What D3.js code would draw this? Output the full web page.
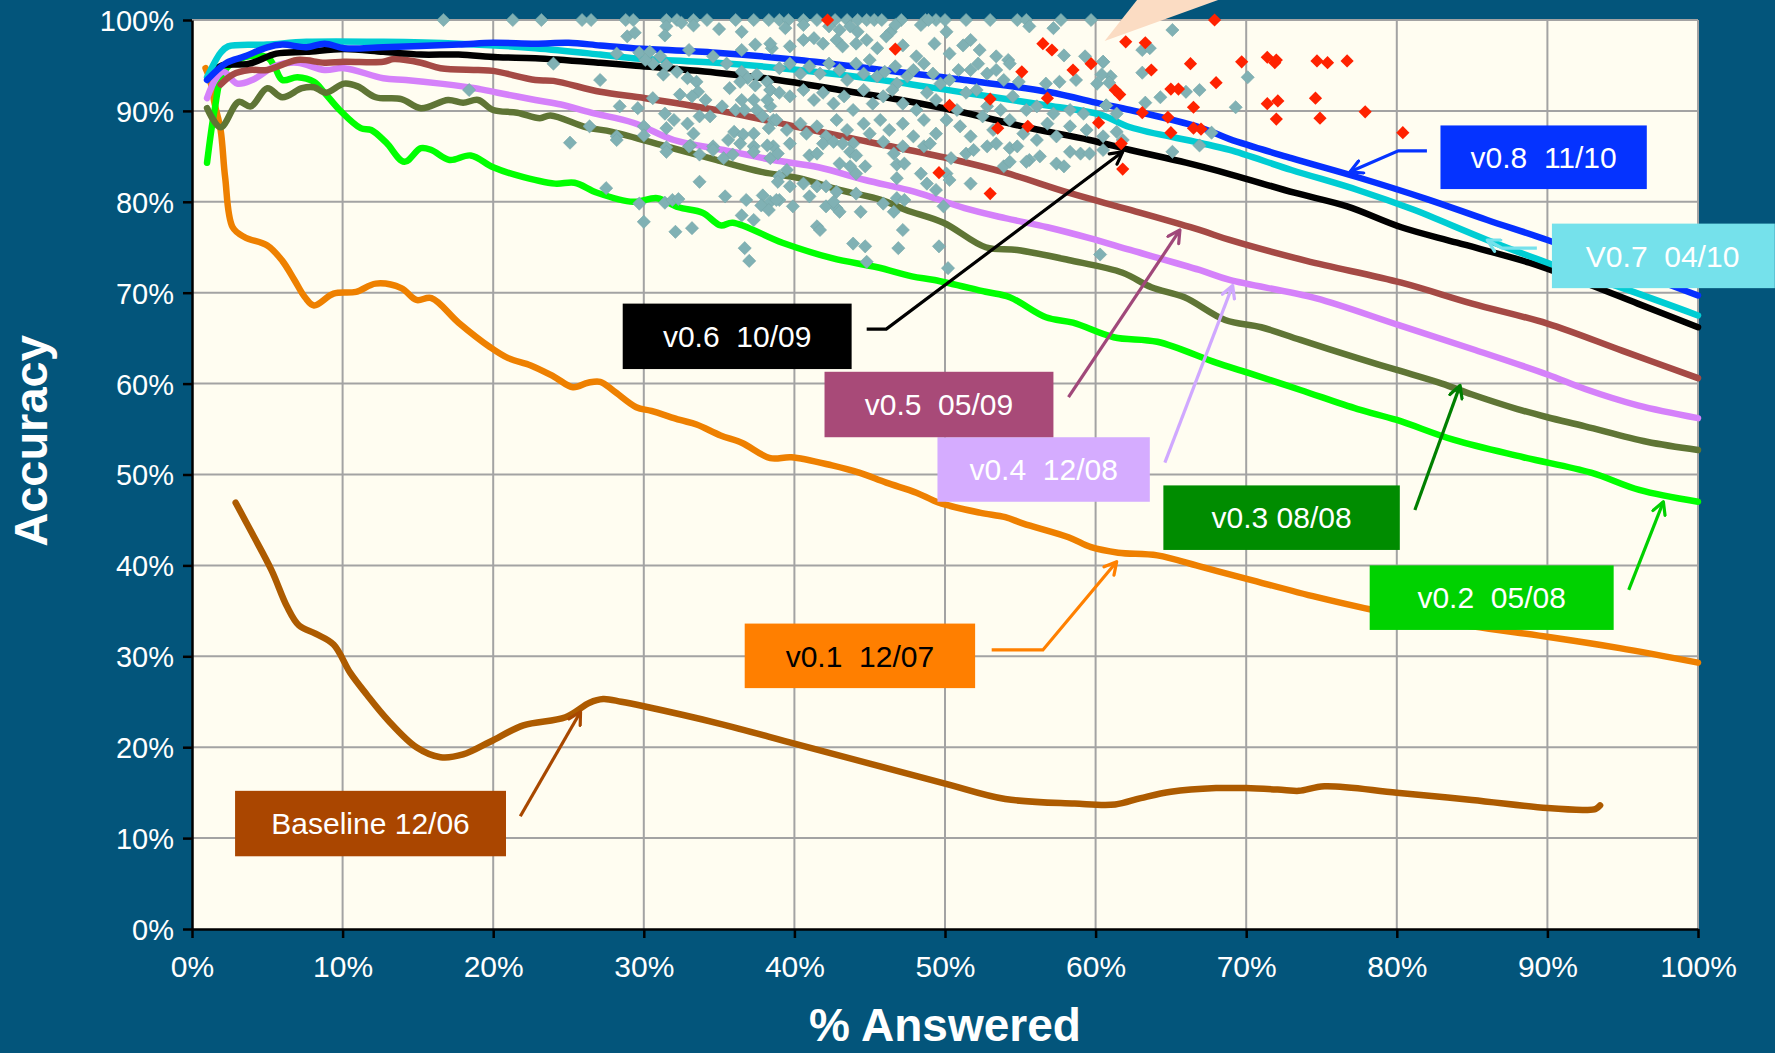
<!DOCTYPE html>
<html>
<head>
<meta charset="utf-8">
<script src="https://cdn.jsdelivr.net/npm/d3@7"></script>
<style>
html, body { margin: 0; padding: 0; background: #03557b; }
svg { display: block; }
</style>
</head>
<body>
<svg width="1775" height="1053"></svg>
<script>
// ---- data (x = % answered, y = accuracy %) ----
const xTicks = [0, 10, 20, 30, 40, 50, 60, 70, 80, 90, 100];
const yTicks = [0, 10, 20, 30, 40, 50, 60, 70, 80, 90, 100];

const baseline = [[2.9,46.9],[4,43.5],[5.3,39.4],[6.3,35.5],[7.1,33.4],[8.2,32.5],[9.4,31.3],[10.5,28.2],[11.6,25.8],[13,23],[14.9,20],[16.5,18.9],[18,19.2],[19.8,20.6],[22,22.4],[24.8,23.3],[26.4,24.9],[27.3,25.3],[28.5,25],[30,24.5],[35,22.6],[40,20.4],[45,18.2],[50,16],[54,14.3],[58.6,13.8],[61.3,13.7],[63,14.4],[65,15.1],[68,15.5],[70,15.5],[72.5,15.3],[73.5,15.2],[75.2,15.7],[80,15],[85,14.2],[90,13.3],[92.5,13.1],[93.2,13.2],[93.5,13.6]];

const v01 = [[0.9,94.7],[1.2,93.4],[1.5,90.8],[1.9,87.9],[2.2,82.7],[2.7,77.2],[3.5,76.1],[5,75.2],[6,73.5],[6.8,71.4],[7.5,69.5],[8.1,68.6],[9.4,69.9],[10.9,70.1],[12.2,71],[13.9,70.5],[14.9,69.2],[15.9,69.4],[17.7,66.7],[19.8,64],[21,62.8],[22.5,62],[24,60.8],[25.3,59.6],[26.3,60.1],[27.1,60.2],[28,59.2],[29.5,57.4],[30.5,57],[32.4,56],[33.5,55.5],[35.1,54.3],[36.5,53.5],[38.4,51.8],[39.8,51.9],[42.5,51],[44.3,50.2],[46.1,49.1],[48.1,48],[49.6,46.9],[52.3,45.8],[54,45.3],[55.2,44.6],[58.2,43.1],[59.7,42],[61.5,41.4],[64.1,41.1],[67.1,39.8],[70.1,38.5],[74.7,36.5],[79.3,34.8],[85,33.3],[90.2,32.1],[94.8,30.9],[100,29.3]];

const v02 = [[1,84.3],[1.5,90.1],[2.1,94.3],[3.5,95.9],[5,95.9],[5.5,94.8],[6,93.4],[7,93.7],[8.1,93.2],[8.8,92],[9.8,90.1],[11.2,88.1],[11.9,87.9],[12.9,86.5],[14.1,84.4],[15.2,85.9],[15.9,85.7],[17.1,84.6],[18.5,85.1],[20,83.8],[21.6,82.9],[24.1,82],[25.4,82.1],[26.9,81],[29.3,80],[30.9,80.4],[32.3,79.4],[33.9,78.8],[35.1,77.4],[35.9,77.7],[39.2,75.5],[42.5,73.8],[45.5,72.8],[47.8,71.8],[49.3,71.4],[52.7,70.1],[54.3,69.5],[56.7,67.3],[58.5,66.7],[61.2,65.1],[64.1,64.6],[68,62.3],[70.1,61.2],[73.6,59.3],[77.4,57.2],[80,56],[83.8,53.8],[88.4,51.9],[92.9,50.2],[96.1,48.3],[100,47]];

const v03 = [[1,90.3],[1.9,88.2],[3.1,91],[3.9,90.5],[5,92.5],[6,91.5],[7.3,92.5],[8.1,92.6],[8.9,92],[10.1,93],[11,92.7],[12.2,91.5],[13.9,91.3],[15.2,90.3],[17,91.2],[18,90.9],[19,91.2],[20,90.1],[21.6,89.8],[23.1,89.2],[23.8,89.5],[26.2,88.2],[27.9,87.7],[31.7,86],[34.8,84.6],[37.8,83.3],[40.3,82.6],[43,81.3],[45.8,80.2],[47.4,79.1],[49.9,77.7],[52.7,75],[54.8,74.7],[58.2,73.6],[61.8,72.2],[63.7,70.6],[65.9,69.5],[68.6,67],[71,66.2],[73.6,64.8],[77.4,62.8],[80,61.5],[83,60],[85,58.8],[88,57.2],[90,56.3],[92.5,55.3],[96.6,53.6],[100,52.7]];

const v04 = [[1,91.4],[1.6,93.6],[2.1,94.3],[3,93],[4,93.4],[5.6,95],[7,95.3],[8.8,94.5],[10.1,94.7],[12.7,93.6],[14.2,93.4],[16.5,93],[18.8,92.5],[20.3,92],[22.8,91.2],[24.5,90.7],[26.5,89.8],[29.3,88.7],[32,86.8],[35.3,85.7],[38.6,84.6],[41.6,83.8],[44.7,82.4],[48,81.1],[51.3,79.3],[54,78.2],[56.8,77.2],[59.6,76],[62.3,74.7],[66.9,72.5],[68.9,71.4],[74.6,69.4],[80,66.5],[85.2,63.7],[90,61],[92.5,59.4],[96,57.6],[100,56.2]];

const v05 = [[1.9,92.9],[2.7,94],[3.8,94.5],[5,94.5],[7,95.6],[8.8,95.3],[10.1,95.4],[12.7,95.4],[13.4,95.7],[15.2,95.3],[16.5,94.7],[19,94.5],[20,94.4],[22.8,93.4],[24,93.3],[27.1,92.1],[30.1,91.4],[34.8,90.1],[40.3,88.2],[45.2,86.5],[49.9,84.9],[54,83.2],[58.2,81],[62.3,79.1],[66.9,76.9],[68.9,75.8],[74,73.5],[80.3,71.1],[85,68.8],[90,66.6],[95,63.6],[100,60.6]];

const v06 = [[1.6,94.6],[2,95],[3.8,95.2],[5.6,96.3],[7.6,96.5],[10.1,96.8],[12.7,96.5],[15.2,96.2],[17.7,96.2],[20.3,95.9],[22.8,95.8],[27.1,95.3],[29.3,95],[34.8,94.2],[38.9,93.4],[43,92.3],[47.1,91.2],[51.3,89.8],[55.4,88.2],[59.6,86.8],[62.3,85.7],[66,84.3],[69,83],[73.2,81],[76.7,79.5],[80.3,77.2],[84,75.5],[88.8,73.3],[92,71.4],[96,68.8],[100,66.2]];

const v07 = [[1,93.7],[1.9,96.4],[2.4,97.1],[5,97.3],[7.6,97.6],[12.7,97.6],[17.7,97.4],[22.8,96.9],[27.1,96.2],[29.3,95.8],[34.8,95.3],[40.3,94.5],[45.8,93.4],[51.3,92],[56.8,90.6],[60.3,89.6],[62.3,88.2],[66.9,86.5],[68.9,85.7],[73,83.5],[77.4,81.3],[81,79.2],[86,75.8],[90,73.3],[95,70.5],[100,67.5]];

const v08 = [[1,93.4],[2.3,95.3],[3.5,96],[5,97],[6,97.3],[7.6,97],[8.8,97.4],[10.1,96.9],[12.7,97],[17.7,97.3],[20,97.5],[22.8,97.4],[25,97.5],[27.1,97.2],[29.3,96.9],[34.8,96.4],[40.3,95.6],[45.8,94.5],[51.3,93.4],[56.8,92.1],[60.3,90.8],[62.3,90.1],[66.9,88.2],[68.9,86.9],[73,84.8],[77.4,82.7],[82,80.3],[86,78],[90,75.8],[95,72.8],[100,69.7]];

const greyPoints = [
  [16.7,100],[21.3,100],[23.2,100],[25.9,100],[26.5,100],[28.8,100],[29.3,100],[31.5,100],[32.2,100],[33.3,100],[34.2,100],[36.1,100],[37.3,100],[38.3,100],[39,100],[39.6,100],[40.6,100],[41.5,100],[42.7,100],[43.5,100],[44.2,100],[44.8,100],[45.3,100],[45.8,100],[47.1,100],[48.7,100],[49.4,100],[50,100],[51.4,100],[53,100],[54.8,100],[55.4,100],[57.7,100],[59.7,100],
  [31.5,99.3],[31.4,98.3],[28.9,98.2],[29.4,98.6],[32.5,99.7],[33.3,99.4],[35,99],[36.5,98.7],[37.4,97.3],[38.5,96.9],[28.2,96.3],[24,95.2],[29.7,96.4],[30.4,96.5],[31.1,96],[31.5,95.05],[30.6,95.2],[30.1,95.6],[33,96.7],[34.6,96],[35.5,95.2],[36.5,96.7],[27.1,93.4],[31.3,94],[32.2,94.3],[32.9,93.6],[18.4,92.3],[36.5,94.3],[36.9,93.6],[37.5,94],[38.2,93.2],[36.4,93.2],[37.4,92.8],[38.4,92.3],[35.7,92.5],[33.5,93.2],[33.6,92.1],[34.1,91.2],[32.4,91.8],[33.2,91.6],[30.6,91.4],[28.4,90.5],[29.6,90.3],[35.2,90.5],[36.1,90.1],[36.7,90.1],[37.5,90.1],[38.4,90.5],[37.9,89.4],[38.6,89],[38.3,88.1],[36.5,91.2],[37.3,91.2],[38.2,91.2],[31.4,89.7],[32,89],[32.9,88.6],[33.7,89.4],[34.4,89.4],[26.4,88.3],[30,88.3],[31.5,88.1],[33.3,87.5],[36,87.7],[36.6,87.4],[37.3,87.5],[28.2,87.2],[30,87.3],[25.1,86.5],[31.5,86],[33.1,86.2],[34.6,86.1],[35.6,86.8],[36.4,86.4],[37.3,86.1],
  [39.4,99.1],[40.6,99.45],[42.3,99.3],[43,98.9],[43.7,99.3],[44.2,98.7],[46.4,98.7],[46.7,99.45],[48.4,99.45],[48.9,100],[50.1,98.7],[57.2,99.1],[55.6,99.3],
  [38.4,97.4],[39.7,97.1],[40.6,97.8],[41.3,98],[41.9,97.4],[42.8,97.8],[43.2,97.1],[44.1,97.4],[44.8,97.8],[45.5,96.9],[46.1,98.2],[47.2,97.2],[48.1,96],[49.3,97.4],[50.3,96.3],[51.2,97.2],[51.7,97.8],[52.3,96.7],[53.4,96],[54.2,95.6],[57.9,96.1],[59.3,96],[60.5,95.4],
  [39,94.7],[39.7,95.2],[40.4,94.1],[41,94.9],[41.7,94.1],[42.3,95.2],[43,94.5],[43.5,93.4],[44.1,95.2],[44.6,94.1],[45,95.6],[45.5,93.8],[46,94.3],[46.7,94.9],[46.8,93],[47.5,93.8],[47.9,94.5],[48.6,95.2],[49.2,94.1],[49.7,93],[50.3,93.4],[50.9,94.5],[51.7,94.5],[52.2,95.2],[52.8,94.1],[53.4,94.5],[53.9,93.4],[54.3,95.2],[54.9,93.2],[56.7,93],[57.6,93.2],[58.7,93.4],[60.1,93],[61,93.8],
  [38.4,92.3],[39,92],[39.7,91.6],[40.6,92.3],[41.3,91.2],[41.9,92],[42.6,90.8],[43.3,91.6],[43.9,90.1],[44.6,92.3],[45.2,90.8],[45.9,91.6],[46.5,92.3],[47.2,90.8],[48.1,90.1],[48.8,92],[49.4,91.2],[50.8,90.1],[51.4,92],[52.1,92.3],[52.8,90.5],[53.7,90.1],[54.5,91.6],[55.4,90.1],[56.1,90.5],[57.2,89.7],[58.3,90.1],[59.2,89.7],[60.7,90.6],[61.4,89.7],
  [38.8,89],[39.5,87.9],[40.4,88.6],[40.8,87.5],[41.5,88.3],[42.1,87.2],[42.8,89],[43.5,87.9],[43.9,86.4],[44.6,88.6],[45,87.5],[45.7,89],[46.3,87.9],[47.2,88.6],[47.9,87.2],[48.6,89],[49.4,87.5],[50.1,89],[51,88.3],[51.7,87.2],[52.5,89.4],[53.2,87.9],[54.3,89],[55.2,87.5],[56.1,86.8],[56.8,88.6],[57.4,87.2],[58.3,88.3],[59.4,87.9],[60.5,87.2],[61.8,86.8],
  [38.6,86.1],[39.7,86.4],[41,85.1],[41.5,85.3],[41.9,86.4],[42.6,86.6],[43.2,86.4],[43.7,85.5],[44.1,85.1],[45.9,86.6],[46.6,85.3],[47.2,86.1],[48.6,86.1],[49,86.4],[50.4,84.8],[51.4,85.3],[51.9,85.7],[52.8,86.1],[53.4,86.4],[54.3,85.9],[54.8,86.1],[55.6,84.6],[56.3,85],[57.4,84.2],[57.9,83.9],[58.3,85.5],[59,85.3],[59.6,85.3],[60.5,85.7],
  [39.5,83.5],[39.7,81.7],[39,82.8],[40.6,82],[41.5,81.7],[42.1,81.7],[42.8,81.1],[43,84.2],[43.7,83.9],[44.1,83.1],[44.7,83.9],[46.8,84.1],[47.3,84.2],[46.8,82.6],[48.4,83.1],[48.8,82],[49.4,81.3],[50.1,83.1],[50.3,82.4],[51.7,82],[53.9,83.9],[54.3,84.4],[55.4,84.4],
  [39,80.2],[39.9,79.5],[41,80.6],[42.1,79.5],[42.8,79.3],[43,78.9],[42.6,80],[44.1,80.9],[44.4,78.9],[45.9,79.8],[46.6,78.9],[46.8,80.4],[47.3,80.2],[49.9,79.5],[41.5,77.3],[41.7,76.9],[43.9,75.4],[44.7,75.1],[47.2,76.9],[46.9,74.9],[49.6,75.1],[44.8,73.4],[50.2,72.7],[60.3,74.2],
  [28.2,86.8],[31.5,85.5],[33,86.1],[33.7,85.2],[34.6,85.7],[35.3,84.8],[35.9,85.2],[37.3,85.5],[38.2,86.2],[38.4,84.8],[38.9,85.3],[27.5,81.5],[29.7,79.8],[30,77.8],[31.4,79.9],[31.9,80.2],[32.3,80.3],[33.7,82.2],[35.4,80.6],[36.8,80.2],[37.9,80.7],[38.4,80],[38.8,80.2],[37.8,79.6],[38.3,79.1],[36.5,78.5],[37.3,78],[32.1,76.7],[33.2,77.1],[36.7,74.9],[37,73.5],[38.9,82.2],
  [60.5,95.4],[60.4,94],[60.9,93.1],[60.7,90.6],[61.4,87.7],[63.1,96.7],[63.6,96.9],[63.1,94.2],[64.3,91.5],[63.3,90.9],[65.1,98.9],[66,92.1],[66.9,92.3],[65.1,85.5],[66.9,86.2],[67.7,87.6],[69.3,90.4],[70.1,93.7]
];

const redPoints = [[42.2,100],[46.7,96.8],[49.6,83.2],[50.3,90.6],[53,91.3],[53,80.9],[53.5,88.1],[55.1,94.3],[55.5,88.3],[56.5,97.4],[57.1,96.7],[56.8,91.4],[58.5,94.5],[59.7,95.2],[60.2,88.7],[61.3,92.3],[61.6,91.8],[61.7,86.4],[61.8,83.6],[62,97.6],[63.3,97.5],[63.7,94.5],[63.1,89.8],[64.8,89.3],[65,92.4],[65.5,92.4],[65,87.6],[66.3,95.2],[66.5,90.4],[66.5,88.1],[67,88],[67.9,100],[68,93.1],[69.7,95.4],[71.4,95.9],[72,95.6],[71.9,95.3],[71.4,90.8],[72.1,91.1],[72,89.1],[74.7,95.5],[75.4,95.3],[76.7,95.5],[74.6,91.4],[74.9,89.2],[77.9,89.9],[80.4,87.6]];

// ---- layout ----
const svg = d3.select("svg"),
    width = +svg.attr("width"),
    height = +svg.attr("height");

const x = d3.scaleLinear().domain([0, 100]).range([192, 1698]);
const y = d3.scaleLinear().domain([0, 100]).range([929, 20]);

const font = "'Liberation Sans', Arial, sans-serif";

svg.append("rect").attr("width", width).attr("height", height).attr("fill", "#03557b");

// plot background
svg.append("rect")
    .attr("x", x(0)).attr("y", y(100))
    .attr("width", x(100) - x(0)).attr("height", y(0) - y(100))
    .attr("fill", "#fffdf1");

// grid
const grid = svg.append("g").attr("stroke", "#a3a3a3").attr("stroke-width", 2);
grid.selectAll(".h").data(yTicks.filter(d => d > 0)).join("line")
    .attr("x1", x(0)).attr("x2", x(100))
    .attr("y1", d => y(d)).attr("y2", d => y(d));
grid.selectAll(".v").data(xTicks.filter(d => d > 0)).join("line")
    .attr("y1", y(0)).attr("y2", y(100))
    .attr("x1", d => x(d)).attr("x2", d => x(d));

// series lines
const series = [
    {data: baseline, color: "#ad5b00"},
    {data: v01, color: "#ee8000"},
    {data: v02, color: "#00ff00"},
    {data: v03, color: "#5f7535"},
    {data: v04, color: "#d581fa"},
    {data: v05, color: "#a54a45"},
    {data: v06, color: "#000000"},
    {data: v07, color: "#00cdd3"},
    {data: v08, color: "#0630ff"}
];

const line = d3.line()
    .x(d => x(d[0]))
    .y(d => y(d[1]))
    .curve(d3.curveCatmullRom.alpha(0.5));

svg.append("g").selectAll("path").data(series).join("path")
    .attr("d", d => line(d.data))
    .attr("fill", "none")
    .attr("stroke", d => d.color)
    .attr("stroke-width", 6.5)
    .attr("stroke-linejoin", "round")
    .attr("stroke-linecap", "round");

// scatter diamonds
const diamond = "M0,-6.6L6.6,0L0,6.6L-6.6,0Z";
svg.append("g").selectAll("path").data(greyPoints).join("path")
    .attr("d", diamond)
    .attr("transform", d => `translate(${x(d[0])},${y(d[1])})`)
    .attr("fill", "#80b1b4")
    .attr("stroke", "#76a6a8")
    .attr("stroke-width", 0.6);
svg.append("g").selectAll("path").data(redPoints).join("path")
    .attr("d", diamond)
    .attr("transform", d => `translate(${x(d[0])},${y(d[1])})`)
    .attr("fill", "#ff2200");

// axes
const yAxis = svg.append("g")
    .attr("transform", `translate(${x(0)},0)`)
    .call(d3.axisLeft(y).tickValues(yTicks).tickFormat(d => d + "%").tickSize(9).tickSizeOuter(0).tickPadding(9));
const xAxis = svg.append("g")
    .attr("transform", `translate(0,${y(0)})`)
    .call(d3.axisBottom(x).tickValues(xTicks).tickFormat(d => d + "%").tickSize(9).tickSizeOuter(0).tickPadding(13));

[yAxis, xAxis].forEach(g => {
    g.select(".domain").attr("stroke", "#000").attr("stroke-width", 2.5);
    g.selectAll(".tick line").attr("stroke", "#000").attr("stroke-width", 2.5);
    g.selectAll(".tick text").attr("fill", "#fff").style("font-family", font);
});
yAxis.selectAll(".tick text").style("font-size", "29px").attr("dy", "0.36em");
xAxis.selectAll(".tick text").style("font-size", "30px").attr("dy", "0.85em");

// axis titles
svg.append("text")
    .attr("transform", "translate(47,441) rotate(-90)")
    .attr("text-anchor", "middle")
    .attr("fill", "#fff")
    .style("font-family", font).style("font-weight", "bold").style("font-size", "47px")
    .text("Accuracy");
svg.append("text")
    .attr("x", (x(0) + x(100)) / 2).attr("y", 1041)
    .attr("text-anchor", "middle")
    .attr("fill", "#fff")
    .style("font-family", font).style("font-weight", "bold").style("font-size", "46px")
    .text("% Answered");

// callout wedge coming in from above
const wedge = [[60.6, 97.7], [62.8, 102.3], [68.3, 102.3]];
svg.append("path")
    .attr("d", d3.line().x(d => x(d[0])).y(d => y(d[1]))(wedge) + "Z")
    .attr("fill", "#fbdcc3");

// annotation boxes + arrows (positions in data units)
const notes = [
    {text: "Baseline 12/06", box: [2.86, 20.85, 15.2, 8.0], fill: "#aa4600", color: "#fff", stroke: "#a84800", arrow: [[21.8, 12.4], [25.8, 23.9]]},
    {text: "v0.1  12/07", box: [36.7, 52.0, 33.6, 26.5], fill: "#ff7f00", color: "#000", stroke: "#ff8000", arrow: [[53.1, 30.7], [56.5, 30.7], [61.4, 40.4]]},
    {text: "v0.2  05/08", box: [78.2, 94.4, 40.0, 32.9], fill: "#00d200", color: "#fff", stroke: "#00d000", arrow: [[95.4, 37.3], [97.7, 47.0]]},
    {text: "v0.3 08/08", box: [64.5, 80.2, 48.8, 41.7], fill: "#008c00", color: "#fff", stroke: "#008000", arrow: [[81.2, 46.1], [84.2, 59.8]]},
    {text: "v0.4  12/08", box: [49.5, 63.6, 54.1, 47.0], fill: "#d5acff", color: "#fff", stroke: "#d0a8ff", arrow: [[64.6, 51.3], [69.1, 70.8]]},
    {text: "v0.5  05/09", box: [42.0, 57.2, 61.3, 54.1], fill: "#a84a78", color: "#fff", stroke: "#a0487a", arrow: [[58.2, 58.5], [65.6, 76.9]]},
    {text: "v0.6  10/09", box: [28.6, 43.8, 68.8, 61.6], fill: "#000000", color: "#fff", stroke: "#000", arrow: [[44.8, 66.0], [46.1, 66.0], [61.8, 85.5]]},
    {text: "V0.7  04/10", box: [90.3, 105.1, 77.6, 70.5], fill: "#75e1eb", color: "#fff", stroke: "#75e1eb", arrow: [[89.3, 74.9], [87.0, 74.9], [86.0, 75.8]]},
    {text: "v0.8  11/10", box: [82.9, 96.6, 88.4, 81.4], fill: "#0533ff", color: "#fff", stroke: "#0533ff", arrow: [[82.0, 85.6], [80.1, 85.6], [76.9, 83.3]]}
];

const defs = svg.append("defs");
notes.forEach((n, i) => {
    defs.append("marker")
        .attr("id", "head" + i)
        .attr("viewBox", "-14 -8 16 16")
        .attr("markerUnits", "userSpaceOnUse")
        .attr("markerWidth", 16).attr("markerHeight", 16)
        .attr("orient", "auto")
        .append("path")
        .attr("d", "M-12,-6.5L0,0L-12,6.5")
        .attr("fill", "none")
        .attr("stroke", n.stroke)
        .attr("stroke-width", 3.2)
        .attr("stroke-linecap", "round")
        .attr("stroke-linejoin", "round");
});

const ann = svg.append("g");
ann.selectAll("path").data(notes).join("path")
    .attr("d", d => d3.line().x(p => x(p[0])).y(p => y(p[1]))(d.arrow))
    .attr("fill", "none")
    .attr("stroke", d => d.stroke)
    .attr("stroke-width", 3.2)
    .attr("marker-end", (d, i) => `url(#head${i})`);

const boxes = ann.selectAll("g.note").data(notes).join("g").attr("class", "note");
boxes.append("rect")
    .attr("x", d => x(d.box[0]))
    .attr("y", d => y(d.box[2]))
    .attr("width", d => x(d.box[1]) - x(d.box[0]))
    .attr("height", d => y(d.box[3]) - y(d.box[2]))
    .attr("fill", d => d.fill);
boxes.append("text")
    .attr("x", d => (x(d.box[0]) + x(Math.min(d.box[1], 105))) / 2)
    .attr("y", d => (y(d.box[2]) + y(d.box[3])) / 2)
    .attr("dy", "0.36em")
    .attr("text-anchor", "middle")
    .attr("fill", d => d.color)
    .style("white-space", "pre")
    .style("font-family", font)
    .style("font-size", "30px")
    .text(d => d.text);
</script>
</body>
</html>
